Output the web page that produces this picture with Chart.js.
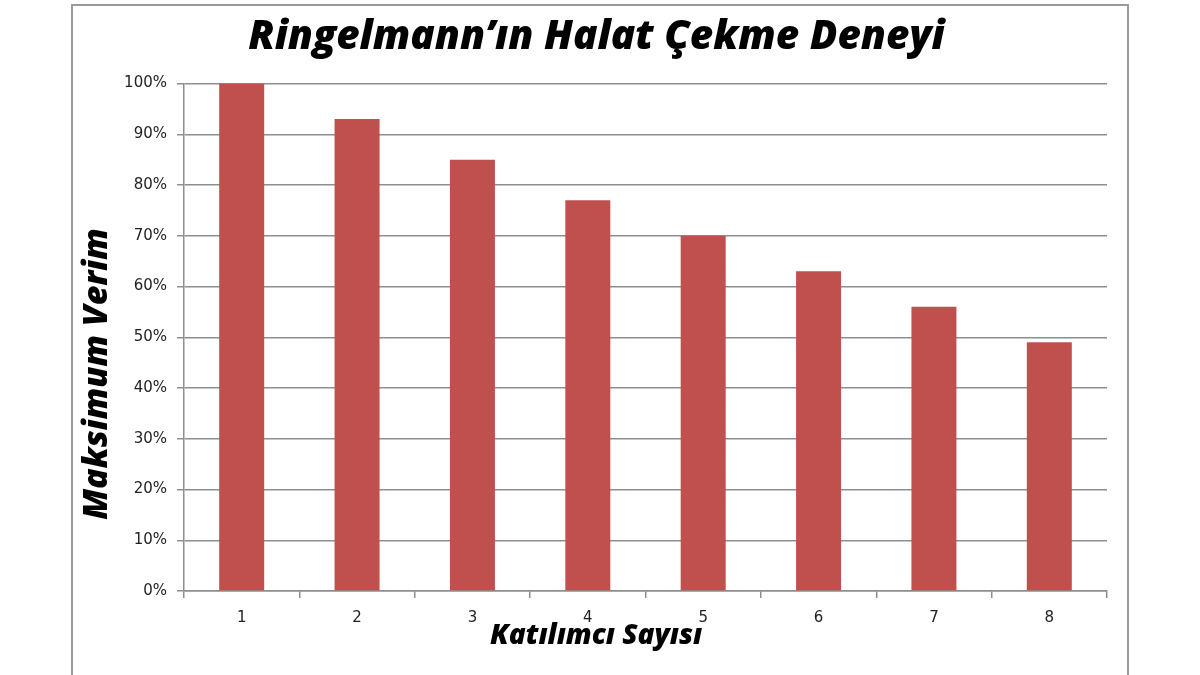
<!DOCTYPE html>
<html>
<head>
<meta charset="utf-8">
<script src="https://cdn.jsdelivr.net/npm/chart.js@4/dist/chart.umd.min.js"></script>
<style>
  html, body { margin: 0; padding: 0; background: #fff; }
  #wrap { position: relative; width: 1200px; height: 675px; }
  #frame {
    position: absolute; left: 71px; top: 4px; width: 1054px; height: 700px;
    border: 2px solid #9a9a9a; border-bottom: none;
  }
  canvas { position: absolute; left: 0; top: 0; }
</style>
</head>
<body>
<div id="wrap">
  <div id="frame"></div>
  <canvas id="chartCanvas" width="1200" height="675"></canvas>
</div>
<script>
// --- data ---
const participants = ["1", "2", "3", "4", "5", "6", "7", "8"];
const efficiency = [100, 93, 85, 77, 70, 63, 56, 49];

const chartTitle = "Ringelmann\u2019ın Halat Çekme Deneyi";
const yTitle = "Maksimum Verim";
const xTitle = "Katılımcı Sayısı";

const gridGray = "#8e8e8e";
const heavyFont = "'Open Sans', 'DejaVu Sans', sans-serif";
const tickFont = { family: "'DejaVu Sans', sans-serif", size: 15 };

const canvas = document.getElementById("chartCanvas");

// axis titles sit centred on the whole picture, not on the plot area
const axisTitles = {
  id: "axisTitles",
  afterDraw(chart) {
    const ctx = chart.ctx;
    ctx.save();
    ctx.fillStyle = "#000";
    ctx.textAlign = "center";
    ctx.textBaseline = "middle";
    ctx.font = "italic 800 28px " + heavyFont;
    ctx.fillText(xTitle, 596, 636);
    ctx.translate(97, 374);
    ctx.rotate(-Math.PI / 2);
    ctx.font = "italic 800 34px " + heavyFont;
    ctx.fillText(yTitle, 0, 0);
    ctx.restore();
  }
};

new Chart(canvas, {
  type: "bar",
  data: {
    labels: participants,
    datasets: [{
      label: yTitle,
      data: efficiency,
      backgroundColor: "#c0504d",
      categoryPercentage: 1,
      barPercentage: 0.39
    }]
  },
  options: {
    responsive: false,
    animation: false,
    devicePixelRatio: 1,
    layout: { padding: { left: 86, right: 93, top: 0, bottom: 0 } },
    plugins: {
      legend: { display: false },
      tooltip: { enabled: false },
      title: {
        display: true,
        text: chartTitle,
        color: "#000",
        font: { family: heavyFont, size: 40.5, weight: "800", style: "italic" },
        padding: { top: 13, bottom: 22 }
      }
    },
    scales: {
      x: {
        grid: { drawOnChartArea: false, drawTicks: true, tickLength: 7, color: gridGray, lineWidth: 1.5 },
        border: { color: gridGray, width: 1.5 },
        ticks: { color: "#222", padding: 11, font: tickFont },
        afterFit: scale => { scale.height = 84; }
      },
      y: {
        min: 0,
        max: 100,
        grid: { color: gridGray, lineWidth: 1.5, tickLength: 7 },
        border: { color: gridGray, width: 1.5 },
        ticks: {
          stepSize: 10,
          color: "#222",
          padding: 10,
          font: tickFont,
          callback: v => v + "%"
        },
        afterFit: scale => { scale.width = 98; }
      }
    }
  },
  plugins: [axisTitles]
});
</script>
</body>
</html>
